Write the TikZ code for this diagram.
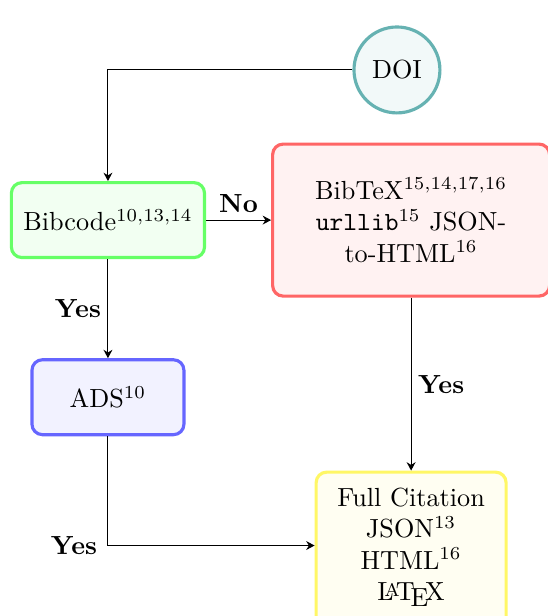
\documentclass[tikz,border=0pt]{standalone}
\usepackage{amsmath,amssymb}
\usepackage{xcolor}
\usepackage{tikz}
\usetikzlibrary{arrows.meta, positioning}

\begin{document}
\begin{tikzpicture}[
  box/.style={draw, very thick, rounded corners=4pt, minimum height=28.6pt, align=center},
  arr/.style={-{Stealth[length=3.2pt, width=3.4pt]}},
  lbl/.style={font=\bfseries, inner sep=2.5pt}
]
\useasboundingbox (0,0) rectangle (208.8pt,-235.1pt);

\node[circle, draw=teal!60, fill=teal!5, very thick, minimum size=32.8pt] (doi) at (151.5pt,-26.7pt) {DOI};
\node[box, draw=green!60, fill=green!5, minimum width=73.7pt] (bib) at (41.2pt,-84pt) {Bibcode$^{10,13,14}$};
\node[box, draw=red!60, fill=red!5, minimum width=105.7pt, minimum height=58pt, right=24.8pt of bib] (bibtex)
  {BibTeX$^{15,14,17,16}$\\ \texttt{urllib}$^{15}$ JSON-\\to-HTML$^{16}$};
\node[box, draw=yellow!60, fill=yellow!5, minimum width=72.5pt, inner ysep=6pt, text depth=22pt, below=66pt of bibtex] (cit)
  {Full Citation\\JSON$^{13}$\\HTML$^{16}$\\\LaTeX};
\node[box, draw=blue!60, fill=blue!5, minimum width=58pt, below=37.8pt of bib] (ads) {ADS$^{10}$};
\coordinate (citin) at ([yshift=-28.6pt]cit.north west);

\draw[arr] (doi.west) -| (bib.north);
\draw[arr] (bib) -- node[lbl, above] {No} (bibtex);
\draw[arr] (bib) -- node[lbl, left] {Yes} (ads);
\draw[arr] (bibtex) -- node[lbl, right] {Yes} (cit);
\draw[arr] (ads.south) |- node[lbl, left, xshift=-1.5pt] {Yes} (citin);
\end{tikzpicture}
\end{document}
